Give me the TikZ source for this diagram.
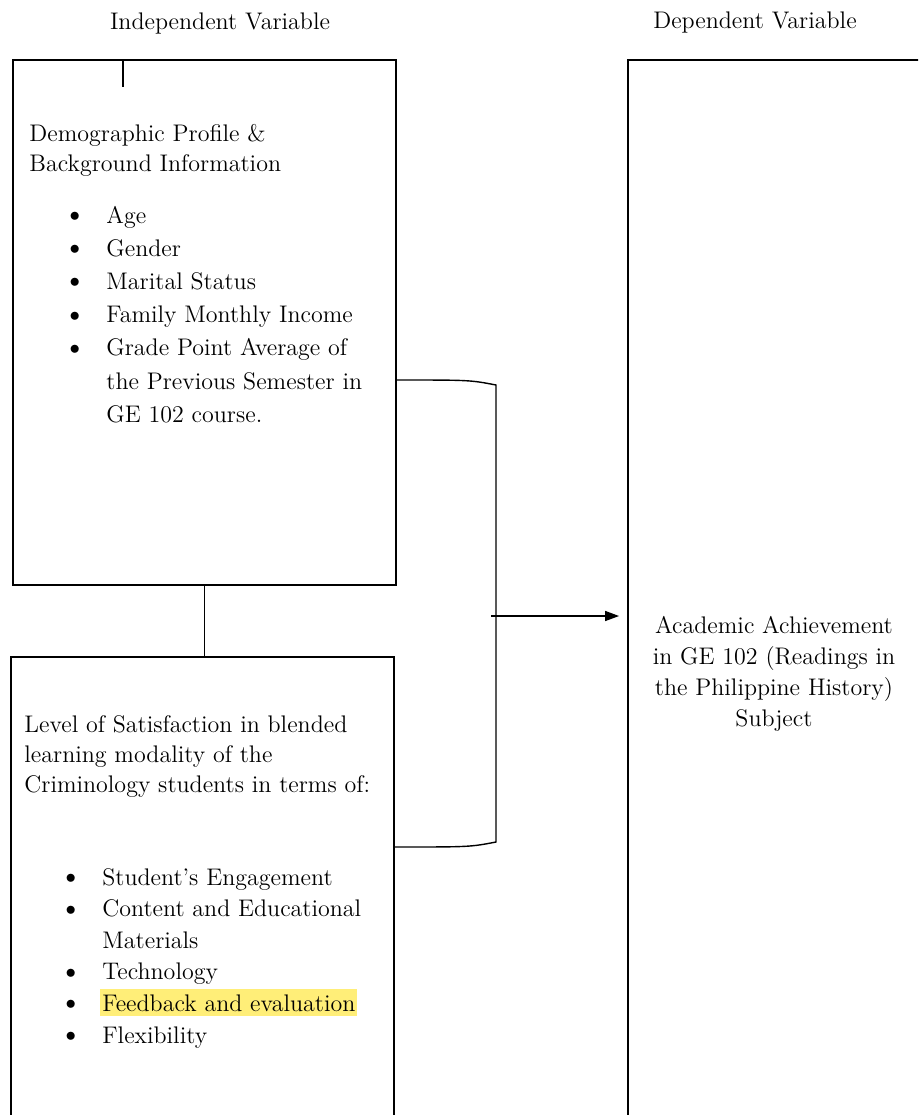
\documentclass[tikz,border=0pt]{standalone}
\usepackage{fontspec}
\usetikzlibrary{arrows.meta,positioning}
\definecolor{hlyellow}{RGB}{255,238,120}
\newlength\hlw
\newcommand{\hlmark}[1]{\settowidth{\hlw}{#1}\rlap{\hspace{-1pt}\color{hlyellow}\rule[-2.5pt]{\dimexpr\hlw+2pt\relax}{13.5pt}}#1}
\newcommand{\bul}{\smash{\raisebox{-0.2pt}{\scalebox{1.25}{\textbullet}}}}
\tikzset{
  varbox/.style={draw, line width=0.9pt, inner sep=0pt},
  wire/.style={line width=0.7pt},
  lbl/.style={inner sep=0pt, font=\fontsize{12}{15}\selectfont},
  headtext/.style={inner sep=0pt, anchor=base west, font=\fontsize{12}{15}\selectfont},
}
\begin{document}
\begin{tikzpicture}[x=0.5pt, y=-0.5pt]
\useasboundingbox (0,0) rectangle (918,1115);
\clip (0,0) rectangle (918,1115);
% column titles
\node[lbl, anchor=base] (indep) at (220,29) {Independent Variable};
\node[lbl, anchor=base] (dep) at (755,28) {Dependent Variable};
% boxes
\node[varbox, minimum width=191.5pt, minimum height=262.5pt] (demo) at (204.5,322.5) {};
\node[varbox, minimum width=191.5pt, minimum height=241.5pt] (satis) at (202.5,898.5) {};
\node[varbox, minimum width=156pt, minimum height=540pt] (achieve) at (784,600) {};
% demographic box
\node[headtext] (demoHead) at (29,141) {\begin{tabular}[t]{@{}l@{}}Demographic Profile \&\\Background Information\end{tabular}};
\node[inner sep=0pt, anchor=base west, font=\fontsize{12}{16.6}\selectfont] (demoList) at (63,223) {\begin{tabular}[t]{@{}p{21.5pt}@{}l@{}}
\bul & Age\\
\bul & Gender\\
\bul & Marital Status\\
\bul & Family Monthly Income\\
\bul & Grade Point Average of\\
 & the Previous Semester in\\
 & GE 102 course.
\end{tabular}};
% satisfaction box
\node[headtext] (satisHead) at (24,732) {\begin{tabular}[t]{@{}l@{}}Level of Satisfaction in blended\\learning modality of the\\Criminology students in terms of:\end{tabular}};
\node[inner sep=0pt, anchor=base west, font=\fontsize{12}{15.8}\selectfont] (satisList) at (59,885) {\begin{tabular}[t]{@{}p{21.5pt}@{}l@{}}
\bul & Student’s Engagement\\
\bul & Content and Educational\\
 & Materials\\
\bul & Technology\\
\bul & \hlmark{Feedback and evaluation}\\
\bul & Flexibility
\end{tabular}};
% dependent box
\node[inner sep=0pt, anchor=base, font=\fontsize{12}{15.5}\selectfont] (achieveText) at (774,633) {\begin{tabular}[t]{@{}c@{}}Academic Achievement\\in GE 102 (Readings in\\the Philippine History)\\Subject\end{tabular}};
% connectors
\coordinate (tick) at (123,87);
\coordinate (joinTop) at (496,385);
\coordinate (joinBot) at (496,842);
\coordinate (arrFrom) at (491,616);
\draw[wire] (tick |- demo.north) -- (tick);
\draw[wire] (demo.south) -- (demo.south |- satis.north);
\draw[wire] (demo.east |- 0,380) .. controls (470,380) .. (joinTop) -- (joinBot) .. controls (470,847) .. (satis.east |- 0,847);
\draw[wire, -{Triangle[length=7pt,width=5pt]}, shorten >=4pt] (arrFrom) -- (arrFrom -| achieve.west);
\end{tikzpicture}
\end{document}
